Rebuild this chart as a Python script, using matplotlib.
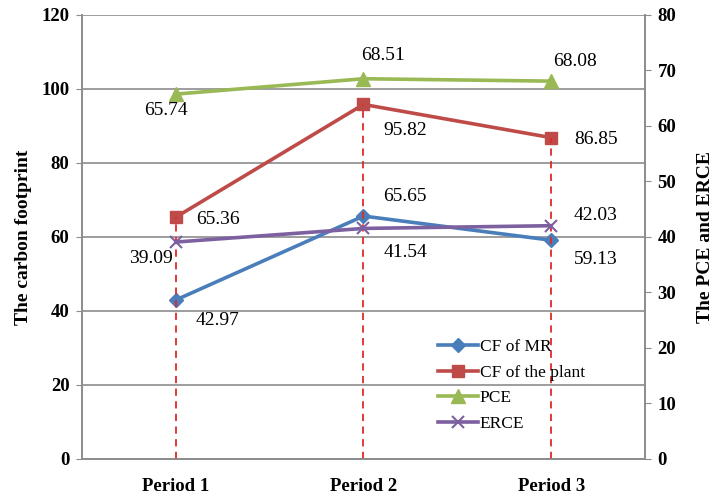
import numpy as np
import matplotlib.pyplot as plt

plt.rcParams['font.family'] = ['Liberation Serif', 'DejaVu Serif']

periods = ['Period 1', 'Period 2', 'Period 3']
cf_mr = [42.97, 65.65, 59.13]
cf_plant = [65.36, 95.82, 86.85]
pce = [65.74, 68.51, 68.08]
erce = [39.09, 41.54, 42.03]

# label offsets in points, one per period
off_mr = [(30, -15), (30, 14), (32, -14)]
off_plant = [(30, -2), (30, -19), (32, -1)]
off_pce = [(-7, -12), (14, 17), (17, 14)]
off_erce = [(-18, -12), (30, -17), (32, 7)]

grid_c = '#8c8c8c'
x = np.arange(len(periods))

fig = plt.figure(figsize=(7.16, 4.99), dpi=100)
ax = fig.add_axes([0.1145, 0.0802, 0.7863, 0.8898])
ax2 = ax.twinx()

ax.set_xlim(-0.5, 2.5)
ax.set_ylim(0, 120)
ax.set_yticks(np.arange(0, 121, 20))
ax2.set_ylim(0, 80)
ax2.set_yticks(np.arange(0, 81, 10))
ax.set_xticks(x)
ax.set_xticklabels(periods, fontsize=13.5, fontweight='bold')
ax.tick_params(axis='x', length=0, pad=14)
ax.tick_params(axis='y', length=4, color=grid_c, labelsize=13.5, pad=5)
ax2.tick_params(axis='y', length=4, color=grid_c, labelsize=13.5, pad=5)
for t in ax.get_yticklabels() + ax2.get_yticklabels():
    t.set_fontweight('bold')
ax.yaxis.grid(True, color=grid_c, lw=1.2)
ax.set_axisbelow(True)

for a in (ax, ax2):
    a.spines['top'].set_visible(False)
    for s in ('left', 'right', 'bottom'):
        a.spines[s].set_color(grid_c)
        a.spines[s].set_linewidth(1.2)

ax.set_ylabel('The carbon footprint', fontsize=14, fontweight='bold', labelpad=7)
ax2.set_ylabel('The PCE and ERCE', fontsize=14, fontweight='bold', labelpad=15)

# drop lines under the plant footprint
ax.vlines(x, 0, cf_plant, colors='#e02a2a', linestyles=(0, (4, 3)), lw=1.3, zorder=4)

l1, = ax.plot(x, cf_mr, color='#4a7ebb', lw=2.6, marker='D', ms=7, label='CF of MR', zorder=3)
l2, = ax.plot(x, cf_plant, color='#be4b48', lw=2.6, marker='s', ms=9, label='CF of the plant', zorder=3)
l3, = ax2.plot(x, pce, color='#98b954', lw=2.6, marker='^', ms=10, label='PCE')
l4, = ax2.plot(x, erce, color='#7d60a0', lw=2.6, marker='x', ms=9, mew=1.5, label='ERCE')

lab = dict(textcoords='offset points', ha='center', va='center', fontsize=14)
for i in x:
    ax.annotate(f'{cf_mr[i]:.2f}', (i, cf_mr[i]), xytext=off_mr[i], **lab)
    ax.annotate(f'{cf_plant[i]:.2f}', (i, cf_plant[i]), xytext=off_plant[i], **lab)
    ax2.annotate(f'{pce[i]:.2f}', (i, pce[i]), xytext=off_pce[i], **lab)
    ax2.annotate(f'{erce[i]:.2f}', (i, erce[i]), xytext=off_erce[i], **lab)

ax2.legend(handles=[l1, l2, l3, l4], loc='lower left', bbox_to_anchor=(0.62, 0.045),
           frameon=False, fontsize=12.5, handlelength=2.3, handletextpad=0.1,
           labelspacing=0.55, borderaxespad=0)

fig.savefig('out.png', dpi=100)
